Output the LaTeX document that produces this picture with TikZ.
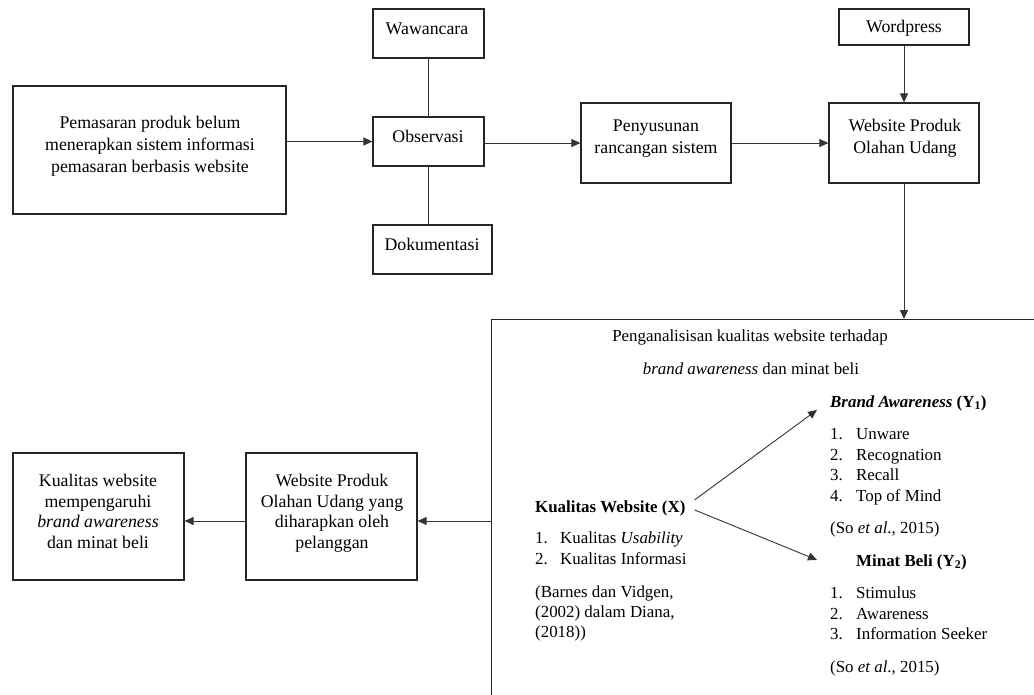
\documentclass[tikz,border=0pt]{standalone}
\usepackage{fontspec}
\setmainfont{Liberation Serif}
\usetikzlibrary{arrows.meta}
\begin{document}
\begin{tikzpicture}[x=1pt,y=-1pt,
 box/.style={draw=black!85, line width=1.2pt, rectangle, inner sep=0pt},
 txt/.style={inner sep=0pt, font=\fontsize{17.8}{22}\selectfont, align=center, anchor=base},
 txtb/.style={inner sep=0pt, font=\fontsize{17.8}{20.5}\selectfont, align=center, anchor=base},
 ttl/.style={inner sep=0pt, font=\fontsize{16.9}{21}\selectfont, anchor=base},
 ln/.style={inner sep=0pt, font=\fontsize{16.9}{21}\selectfont, anchor=base west},
 arr/.style={draw=black!80, line width=0.9pt, -{Triangle[length=9pt,width=8pt]}},
 con/.style={draw=black!80, line width=0.9pt}]
\clip (0,0) rectangle (1034,694);
\fill[white] (0,0) rectangle (1034,694);
% boxes
\node[box, minimum width=273pt, minimum height=128pt] (pem) at (149.5,150) {};
\node[box, minimum width=111pt, minimum height=49pt] (waw) at (428.5,33.5) {};
\node[box, minimum width=111pt, minimum height=49pt] (obs) at (428.5,141.5) {};
\node[box, minimum width=119pt, minimum height=49pt] (dok) at (432.5,249.5) {};
\node[box, minimum width=150pt, minimum height=80pt] (pen) at (656,143) {};
\node[box, minimum width=150pt, minimum height=80pt] (web) at (904,143) {};
\node[box, minimum width=130pt, minimum height=36pt] (wp) at (904,27) {};
\node[box, minimum width=171pt, minimum height=127pt] (kual) at (98.5,516.5) {};
\node[box, minimum width=171pt, minimum height=127pt] (exp) at (331.5,516.5) {};
\node[box, minimum width=700pt, minimum height=500pt, anchor=north west] (big) at (491,319) {};
% box texts (base = baseline of last line)
\node[txt] (pemt) at (150,172) {Pemasaran produk belum\\menerapkan sistem informasi\\pemasaran berbasis website};
\node[txt] (wawt) at (427,34) {Wawancara};
\node[txt] (obst) at (428,142) {Observasi};
\node[txt] (dokt) at (432,250) {Dokumentasi};
\node[txt] (wpt) at (904,32) {Wordpress};
\node[txt] (pent) at (656,153) {Penyusunan\\rancangan sistem};
\node[txt] (webt) at (905,153) {Website Produk\\Olahan Udang};
\node[txtb] (kualt) at (98,548) {Kualitas website\\mempengaruhi\\\textit{brand awareness}\\dan minat beli};
\node[txtb] (expt) at (332,548) {Website Produk\\Olahan Udang yang\\diharapkan oleh\\pelanggan};
% big box content
\node[ttl] (t1) at (750,341) {Penganalisisan kualitas website terhadap};
\node[ttl] (t2) at (751,374) {\textit{brand awareness} dan minat beli};
\node[ln] (kwx) at (535,512) {\textbf{Kualitas Website (X)}};
\node[ln] (x1) at (535,543) {\makebox[25pt][l]{1.}Kualitas \textit{Usability}};
\node[ln] (x2) at (535,564) {\makebox[25pt][l]{2.}Kualitas Informasi};
\node[ln] (xc1) at (535,597) {(Barnes dan Vidgen,};
\node[ln] (xc2) at (535,617) {(2002) dalam Diana,};
\node[ln] (xc3) at (535,637) {(2018))};
\node[ln] (ba) at (830,407) {\textbf{\textit{Brand Awareness} (Y\textsubscript{1})}};
\node[ln] (b1) at (830,439) {\makebox[26pt][l]{1.}Unware};
\node[ln] (b2) at (830,460) {\makebox[26pt][l]{2.}Recognation};
\node[ln] (b3) at (830,480) {\makebox[26pt][l]{3.}Recall};
\node[ln] (b4) at (830,501) {\makebox[26pt][l]{4.}Top of Mind};
\node[ln] (bc) at (830,533) {(So \textit{et al}., 2015)};
\node[ln] (mb) at (856,566) {\textbf{Minat Beli (Y\textsubscript{2})}};
\node[ln] (m1) at (830,598) {\makebox[26pt][l]{1.}Stimulus};
\node[ln] (m2) at (830,619) {\makebox[26pt][l]{2.}Awareness};
\node[ln] (m3) at (830,639) {\makebox[26pt][l]{3.}Information Seeker};
\node[ln] (mc) at (830,672) {(So \textit{et al}., 2015)};
% connectors
\draw[con] (waw.south) -- (obs.north);
\draw[con] (obs.south) -- (obs.south |- dok.north);
\draw[arr] (pem.east |- obs.west) -- (obs.west);
\draw[arr] (obs.east |- pen.west) -- (pen.west);
\draw[arr] (pen.east) -- (web.west);
\draw[arr] (wp.south) -- (web.north);
\draw[arr] (web.south) -- (web.south |- big.north);
\draw[arr] ([yshift=-4.5pt]exp.east -| big.west) -- ([yshift=-4.5pt]exp.east);
\draw[arr] ([yshift=-4.5pt]exp.west) -- ([yshift=-4.5pt]kual.east);
\draw[arr] ([xshift=9pt,yshift=8pt]kwx.east) -- ([xshift=-13pt,yshift=-7pt]ba.west);
\draw[arr] ([xshift=9pt,yshift=-2pt]kwx.east) -- ([xshift=-39pt,yshift=2pt]mb.west);
\end{tikzpicture}
\end{document}
